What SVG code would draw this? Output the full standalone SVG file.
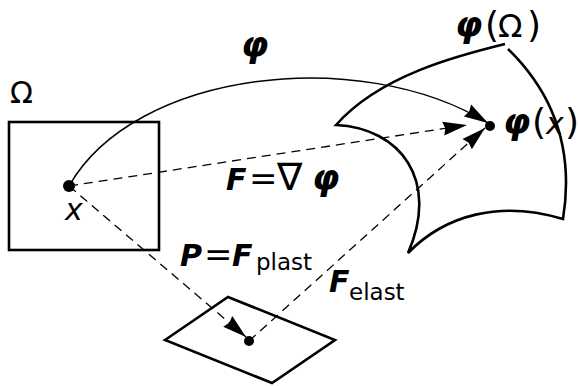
<svg xmlns="http://www.w3.org/2000/svg" width="580" height="386" viewBox="0 0 580 386">
<style>
text{font-family:"DejaVu Sans","Liberation Sans",sans-serif;font-size:30px;fill:#000}
.b{font-weight:bold;font-style:italic}
.phi{font-weight:bold;font-style:italic;font-size:35px}
.i{font-style:italic}
.par{font-size:36px}
.op{font-size:34px}
.nab{font-size:38px}
.sub{font-size:23px;font-weight:normal;font-style:normal}
.thick{fill:none;stroke:#000;stroke-width:2.6;stroke-linejoin:miter}
.dash{fill:none;stroke:#000;stroke-width:1.3;stroke-dasharray:9 6}
.curve{fill:none;stroke:#000;stroke-width:1.5}
</style>
<defs>
<marker id="ah" markerUnits="userSpaceOnUse" viewBox="-25 -8 26 16" refX="0" refY="0" markerWidth="26" markerHeight="16" orient="auto">
<path d="M0,0 L-24,-7 L-22,0 L-24,7 Z" fill="#000"/>
</marker>
</defs>
<g id="reference">
<rect x="9" y="122" width="150" height="128" class="thick"/>
<text x="10" y="103">Ω</text>
<circle cx="69" cy="186" r="6"/>
<text x="65" y="220" class="i">x</text>
</g>
<g id="deformed">
<path class="thick" d="M505,44 C460,55 380,75 336,125 C400,128 440,180 408,253 C445,215 500,200 563,219 C575,145 550,90 508,49"/>
<text y="37"><tspan x="455" class="phi">φ</tspan><tspan x="485" class="par">(</tspan><tspan x="498" style="font-size:32px">Ω</tspan><tspan x="527" class="par">)</tspan></text>
<circle cx="490" cy="126" r="5"/>
<text y="134"><tspan x="503" class="phi">φ</tspan><tspan x="532" class="par">(</tspan><tspan x="546" class="i">x</tspan><tspan x="565" class="par">)</tspan></text>
</g>
<g id="intermediate">
<path class="thick" d="M165,340 L228,297 L335,340 L272,383 Z"/>
<circle cx="249" cy="341" r="5"/>
</g>
<g id="connectors">
<path class="curve" d="M69,186 C135,70 360,45 488,123" marker-end="url(#ah)"/>
<text x="241" y="57" class="phi">φ</text>
<path class="dash" d="M69,186 L467,125" marker-end="url(#ah)"/>
<text y="190"><tspan x="226" class="b">F</tspan><tspan x="249" class="op">=</tspan><tspan x="277" class="nab">∇</tspan><tspan x="312" class="phi">φ</tspan></text>
<path class="dash" d="M69,186 L246,337" marker-end="url(#ah)"/>
<text y="266"><tspan x="180" class="b">P</tspan><tspan x="204" class="op">=</tspan><tspan x="232" class="b">F</tspan><tspan x="256" y="270" class="sub">plast</tspan></text>
<path class="dash" d="M249,341 L485,128" marker-end="url(#ah)"/>
<text y="292"><tspan x="329" class="b">F</tspan><tspan x="349" y="300" class="sub">elast</tspan></text>
</g>
</svg>
